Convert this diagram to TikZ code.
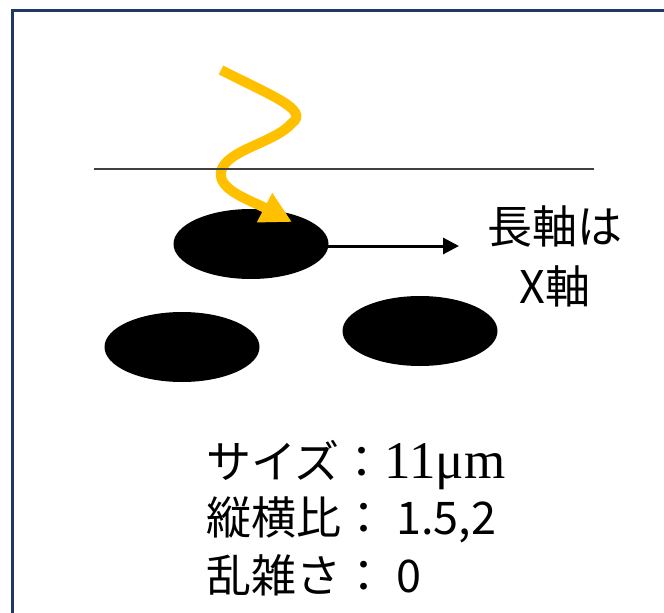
\documentclass[tikz,border=0pt]{standalone}
\usepackage{fontspec}
\newfontfamily\jp{Noto Sans CJK JP}
\newfontfamily\serifnum{Liberation Serif}
\usetikzlibrary{shapes.geometric,arrows.meta}
\definecolor{frameblue}{HTML}{1F3864}
\definecolor{wavyellow}{HTML}{FFC000}
\definecolor{linegray}{HTML}{404040}
\tikzset{
  particle/.style={ellipse, fill=black, draw=none, minimum width=155bp, minimum height=70bp, inner sep=0pt},
  label jp/.style={font=\jp\fontsize{45bp}{54bp}\selectfont, inner sep=0pt, anchor=west},
  axis label/.style={font=\jp\fontsize{45bp}{60bp}\selectfont, inner sep=0pt, align=center},
  wave/.style={draw=wavyellow, line width=10bp, -{Triangle[length=31bp,width=31bp]}},
}
\begin{document}
\begin{tikzpicture}[x=1bp,y=-1bp]
\useasboundingbox (0,0) rectangle (664,613);
\fill[white] (0,0) rectangle (664,613);
% frame
\draw[frameblue, line width=3bp] (12,11) rectangle (700,650);
% particles
\node[particle] (p1) at (251,244) {};
\node[particle] (p2) at (182,347) {};
\node[particle] (p3) at (420,331) {};
% wavy arrow
\coordinate (w0) at (221,70);
\coordinate (w1) at (292,123);
\coordinate (w2) at (221,172);
\coordinate (wtip) at (292,222);
\draw[wave] (w0) .. controls (270,95) and (310,110) .. (w1)
  .. controls (275,143) and (225,150) .. (w2)
  .. controls (218,190) and (250,200) .. (wtip);
% surface line
\coordinate (s0) at (94,169);
\coordinate (s1) at (594,169);
\draw[linegray, line width=1.5bp] (s0) -- (s1);
% axis arrow
\node[axis label] (ax) at (555,256) {長軸は\\X軸};
\coordinate (axstart) at (326,246);
\coordinate (axend) at (459,246);
\draw[line width=3bp, -{Triangle[length=16bp,width=16bp]}] (axstart) -- (axend);
% parameters
\node[label jp] (t1) at (206,465) {サイズ：{\serifnum\fontsize{53bp}{54bp}\selectfont 11μm}};
\node[label jp] (t2) at (206,520) {縦横比： 1.5,2};
\node[label jp] (t3) at (206,575) {乱雑さ： 0};
\end{tikzpicture}
\end{document}
